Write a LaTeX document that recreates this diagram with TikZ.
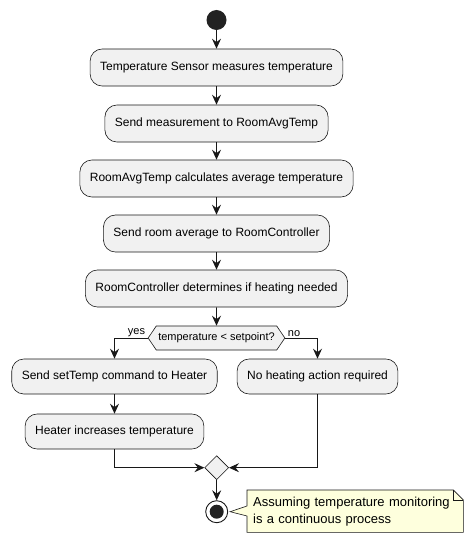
\documentclass[tikz,border=0pt]{standalone}
\usepackage{fontspec}
\setmainfont{Liberation Sans}
\usetikzlibrary{arrows.meta,shapes.geometric,shapes.symbols,backgrounds}
\definecolor{ActFill}{HTML}{F1F1F1}
\definecolor{ActLine}{HTML}{181818}
\definecolor{DotFill}{HTML}{222222}
\definecolor{NoteFill}{HTML}{FEFFDD}
\tikzset{
  action/.style={draw=ActLine,fill=ActFill,line width=0.6pt,rounded corners=12pt,
    minimum height=37pt,inner xsep=10pt,font=\fontsize{12}{14}\selectfont},
  branch/.style={draw=ActLine,fill=ActFill,line width=0.6pt,signal,signal to=west and east,
    signal pointer angle=112,minimum height=24pt,inner xsep=2pt,inner ysep=0pt,font=\fontsize{11}{13}\selectfont},
  merge/.style={draw=ActLine,fill=ActFill,line width=0.6pt,diamond,minimum size=24pt,inner sep=0pt},
  flow/.style={draw=ActLine,line width=0.9pt,-{Stealth[length=10pt,width=9pt,inset=3.5pt]}},
  guard/.style={inner sep=1pt,font=\fontsize{11}{13}\selectfont},
  notebox/.style={draw=ActLine,fill=NoteFill,line width=0.6pt}
}
\begin{document}
\begin{tikzpicture}[x=1pt,y=-1pt]
\path[use as bounding box] (0,0) rectangle (474,543);
% start
\node[circle,fill=DotFill,minimum size=20pt,inner sep=0pt] (start) at (216.5,20) {};
% main sequence
\node[action] (sense) at (216.5,67.5) {Temperature Sensor measures temperature};
\node[action] (send) at (216.5,123.5) {Send measurement to RoomAvgTemp};
\node[action] (avg) at (216.5,178.5) {RoomAvgTemp calculates average temperature};
\node[action] (pass) at (216.5,233.5) {Send room average to RoomController};
\node[action] (decide) at (216.5,288.5) {RoomController determines if heating needed};
\node[branch] (check) at (216.5,338) {temperature < setpoint?};
% branches
\node[action,minimum height=35pt] (settemp) at (114.5,376.5) {Send setTemp command to Heater};
\node[action,minimum height=35pt] (heatup) at (114.5,431.5) {Heater increases temperature};
\node[action,minimum height=35pt] (noheat) at (317.5,376.5) {No heating action required};
\node[merge] (join) at (216.7,467.7) {};
% stop
\node[circle,draw=ActLine,fill=white,line width=0.9pt,minimum size=22pt,inner sep=0pt] (stop) at (216.7,511.7) {};
\fill[DotFill] (stop.center) circle (7pt);
% note
\node[anchor=north west,text width=204pt,inner xsep=6pt,minimum height=42pt,align=left,
  font=\fontsize{13}{17}\selectfont] (note) at (247,490)
  {Assuming temperature monitoring\\is a continuous process};
\begin{scope}[on background layer]
\filldraw[notebox] (note.north west) -- ([xshift=-10pt]note.north east) -- ([yshift=-10pt]note.north east)
  -- (note.south east) -- (note.south west) -- ([yshift=-26pt]note.north west)
  -- ([xshift=2pt]stop.east) -- ([yshift=-16pt]note.north west) -- cycle;
\draw[notebox,fill=none] ([xshift=-10pt]note.north east) -- ([xshift=-10pt,yshift=-10pt]note.north east)
  -- ([yshift=-10pt]note.north east);
\end{scope}
% connectors
\draw[flow] (start) -- (sense);
\draw[flow] (sense) -- (send);
\draw[flow] (send) -- (avg);
\draw[flow] (avg) -- (pass);
\draw[flow] (pass) -- (decide);
\draw[flow] (decide) -- (check);
\draw[flow] (check.west) -| (settemp.north) node[pos=0.17,above,guard] {yes};
\draw[flow] (check.east) -| (noheat.north) node[pos=0.02,above right,guard] {no};
\draw[flow] (settemp) -- (heatup);
\draw[flow] (heatup.south) |- (join.west);
\draw[flow] (noheat.south) |- (join.east);
\draw[flow] (join) -- (stop);
\end{tikzpicture}
\end{document}
